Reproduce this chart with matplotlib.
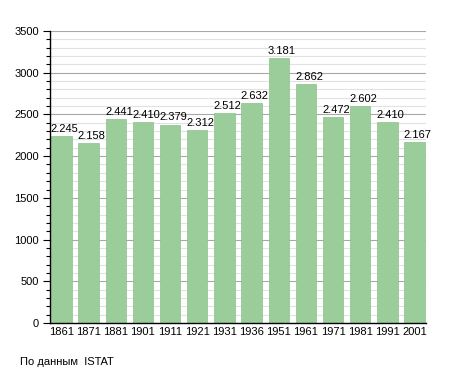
import matplotlib
matplotlib.use("Agg")
import matplotlib.pyplot as plt
from matplotlib.ticker import MultipleLocator

years = ["1861", "1871", "1881", "1901", "1911", "1921", "1931",
         "1936", "1951", "1961", "1971", "1981", "1991", "2001"]
population = [2245, 2158, 2441, 2410, 2379, 2312, 2512,
              2632, 3181, 2862, 2472, 2602, 2410, 2167]
value_labels = ["2.245", "2.158", "2.441", "2.410", "2.379", "2.312", "2.512",
                "2.632", "3.181", "2.862", "2.472", "2.602", "2.410", "2.167"]

plt.rcParams["font.family"] = ["Liberation Sans", "DejaVu Sans"]

fig = plt.figure(figsize=(4.55, 3.73), dpi=100)
ax = fig.add_axes([50 / 455, 50 / 373, 376 / 455, 292 / 373])

x = list(range(len(years)))
bars = ax.bar(x, population, width=0.75, color="#9acd9a", edgecolor="#8cc28c",
              linewidth=0.5, zorder=2)
for xi, val, lab in zip(x, population, value_labels):
    ax.text(xi + 0.12, val + 25, lab, ha="center", va="bottom", fontsize=8,
            color="#000000", zorder=3)

ax.set_xlim(-0.42, len(years) - 0.58)
ax.set_ylim(0, 3500)
ax.yaxis.set_major_locator(MultipleLocator(500))
ax.yaxis.set_minor_locator(MultipleLocator(100))
ax.grid(axis="y", which="minor", color="#e2e2e2", linewidth=0.8, zorder=0)
ax.grid(axis="y", which="major", color="#a8a8a8", linewidth=0.8, zorder=0)
ax.set_axisbelow(True)

ax.set_xticks(x)
ax.set_xticklabels(years)
ax.tick_params(axis="x", length=0, pad=3, labelsize=8)
ax.tick_params(axis="y", which="major", length=5, width=0.8, labelsize=8, pad=3)
ax.tick_params(axis="y", which="minor", length=3, width=0.8)

for side in ["top", "right"]:
    ax.spines[side].set_visible(False)
ax.spines["left"].set_linewidth(1.0)
ax.spines["bottom"].set_linewidth(1.0)

fig.text(20 / 455, 1 - 362 / 373, "По данным  ISTAT", fontsize=8, va="center", ha="left")

fig.savefig("out.png", dpi=100)
